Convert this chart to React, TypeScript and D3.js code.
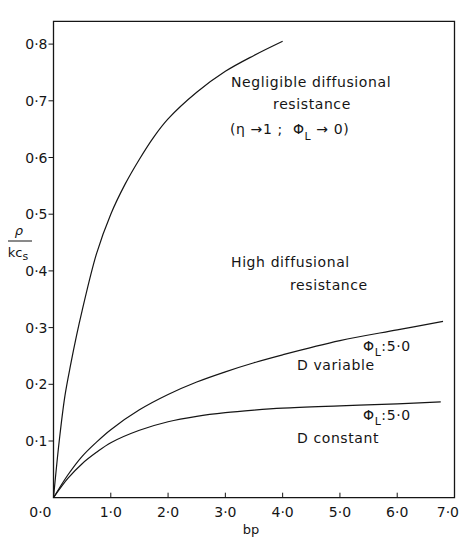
import React from "react";
import * as d3 from "d3";

// bp values and rho/kcs for each curve
const negligibleBp = [0, 0.1, 0.2, 0.3, 0.4, 0.5, 0.75, 1.0, 1.25, 1.5, 1.75, 2.0, 2.5, 3.0, 3.5, 4.0];
const negligibleVal = [0, 0.1, 0.18, 0.235, 0.285, 0.33, 0.43, 0.5, 0.553, 0.597, 0.636, 0.668, 0.715, 0.752, 0.78, 0.805];

const variableBp = [0, 0.25, 0.5, 0.75, 1.0, 1.5, 2.0, 2.5, 3.0, 3.5, 4.0, 5.0, 6.0, 6.8];
const variableVal = [0, 0.04, 0.073, 0.098, 0.12, 0.155, 0.182, 0.204, 0.222, 0.238, 0.252, 0.277, 0.296, 0.311];

const constantBp = [0, 0.25, 0.5, 0.75, 1.0, 1.5, 2.0, 2.5, 3.0, 3.5, 4.0, 5.0, 6.0, 6.76];
const constantVal = [0, 0.034, 0.06, 0.08, 0.097, 0.119, 0.134, 0.1435, 0.15, 0.1545, 0.158, 0.162, 0.1655, 0.169];

const xTicks = [0, 1, 2, 3, 4, 5, 6, 7];
const yTicks = [0, 0.1, 0.2, 0.3, 0.4, 0.5, 0.6, 0.7, 0.8];

const font = "'DejaVu Sans', sans-serif";
const ink = "#151515";

const x = d3.scaleLinear().domain([0, 7]).range([53.5, 454.5]);
const y = d3.scaleLinear().domain([0, 0.8]).range([497.7, 44.1]);

function toPoints(bp: number[], vals: number[]): [number, number][] {
  return bp.map((b, i) => [b, vals[i]]);
}

const line = d3
  .line<[number, number]>()
  .x(d => x(d[0]))
  .y(d => y(d[1]))
  .curve(d3.curveCatmullRom.alpha(0.5));

const fmt = (v: number) => v.toFixed(1).replace(".", "·");

const note = {
  fontFamily: font,
  fontSize: 14,
  fill: ink,
  letterSpacing: 0.6,
  style: { whiteSpace: "pre" as const },
};

function Phi({ px, py }: { px: number; py: number }) {
  return (
    <text x={px} y={py} {...note}>
      Φ<tspan fontSize={11} dy={5}>L</tspan>
      <tspan dy={-5}>:5·0</tspan>
    </text>
  );
}

export default function App() {
  const top = y(0.84);
  const curves = [
    toPoints(negligibleBp, negligibleVal),
    toPoints(variableBp, variableVal),
    toPoints(constantBp, constantVal),
  ];
  return (
    <svg
      width={459}
      height={537}
      style={{ position: "absolute", left: 0, top: 0, background: "#fff" }}
    >
      {/* frame */}
      <path
        d={`M${x(0)},${y(0)} V${top} H${x(7)} V${y(0)} Z`}
        fill="none"
        stroke={ink}
        strokeWidth={1.3}
      />
      {/* y ticks, outward */}
      {yTicks.map(t => (
        <g key={"y" + t}>
          {t > 0 && (
            <line x1={x(0) - 5} x2={x(0)} y1={y(t)} y2={y(t)} stroke={ink} strokeWidth={1} />
          )}
          <text
            x={t === 0 ? x(0) - 2 : x(0) - 6}
            y={t === 0 ? y(t) + 19 : y(t) + 5}
            textAnchor="end"
            fontFamily={font}
            fontSize={14}
            fill={ink}
          >
            {fmt(t)}
          </text>
        </g>
      ))}
      {/* x ticks, inward */}
      {xTicks.map(t => (
        <g key={"x" + t}>
          {t > 0 && t < 7 && (
            <line x1={x(t)} x2={x(t)} y1={y(0)} y2={y(0) - 5} stroke={ink} strokeWidth={1} />
          )}
          {t > 0 && (
            <text
              x={t === 7 ? 459 : x(t)}
              y={y(0) + 19}
              textAnchor={t === 7 ? "end" : "middle"}
              fontFamily={font}
              fontSize={14}
              fill={ink}
            >
              {fmt(t)}
            </text>
          )}
        </g>
      ))}
      <text x={251} y={534} textAnchor="middle" fontFamily={font} fontSize={13} fill={ink}>
        bp
      </text>
      {/* y label */}
      <text x={19} y={235} textAnchor="middle" fontFamily={font} fontSize={13} fill={ink} fontStyle="italic">
        ρ
      </text>
      <line x1={8} x2={32} y1={241} y2={241} stroke={ink} strokeWidth={1} />
      <text x={18} y={257} textAnchor="middle" fontFamily={font} fontSize={13} fill={ink}>
        kc<tspan fontSize={11} dy={3}>s</tspan>
      </text>
      {/* curves */}
      {curves.map((c, i) => (
        <path key={i} d={line(c) ?? ""} fill="none" stroke={ink} strokeWidth={1.2} />
      ))}
      {/* annotations */}
      <text x={231} y={87} {...note}>
        Negligible diffusional
      </text>
      <text x={312} y={109} textAnchor="middle" {...note}>
        resistance
      </text>
      <text x={230} y={134} {...note}>
        {"(η →1 ;  Φ"}
        <tspan fontSize={11} dy={6}>L</tspan>
        <tspan dy={-6}>{" → 0)"}</tspan>
      </text>
      <text x={231} y={267} {...note}>
        High diffusional
      </text>
      <text x={290} y={290} {...note}>
        resistance
      </text>
      <Phi px={363} py={351} />
      <text x={297} y={370} {...note}>
        D variable
      </text>
      <Phi px={363} py={420} />
      <text x={297} y={443} {...note}>
        D constant
      </text>
    </svg>
  );
}
